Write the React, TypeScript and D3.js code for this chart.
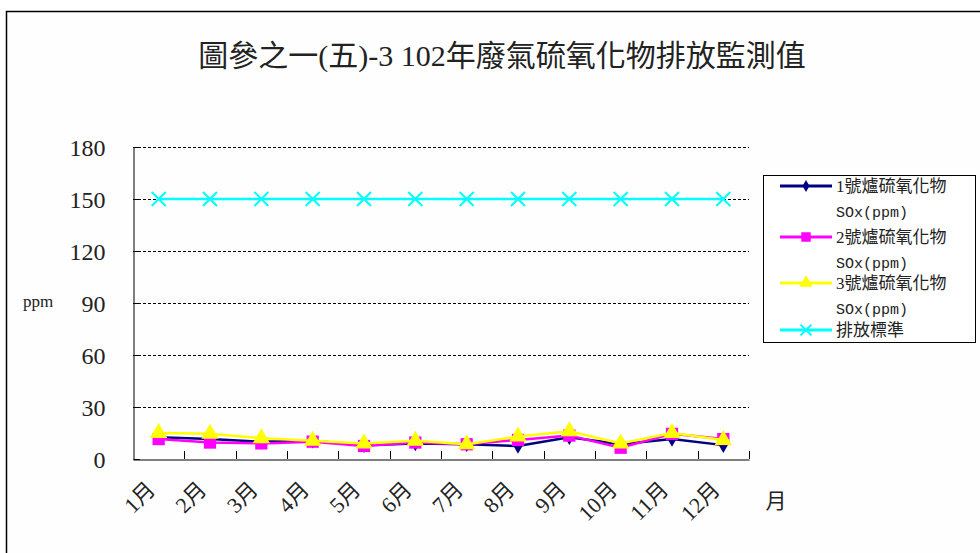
import React, { useRef, useEffect } from 'react'
import * as d3 from 'd3'

const months = ['1月', '2月', '3月', '4月', '5月', '6月', '7月', '8月', '9月', '10月', '11月', '12月']
const furnace1 = [12.5, 11.5, 10, 10.5, 8, 9, 8.5, 7.5, 12.5, 8.5, 11.5, 8]
const furnace2 = [11.5, 9.5, 9, 10, 7.5, 9.5, 8.5, 11, 13.5, 6.5, 14.5, 11.5]
const furnace3 = [15, 14.5, 12, 10.5, 9, 10.5, 8.5, 13, 16, 9, 15, 11]
const standard = [150, 150, 150, 150, 150, 150, 150, 150, 150, 150, 150, 150]
const yTicks = [0, 30, 60, 90, 120, 150, 180]

const seriesList = [
  { name: '1號爐硫氧化物', sub: 'SOx(ppm)', values: furnace1, color: '#000080', marker: 'diamond' },
  { name: '2號爐硫氧化物', sub: 'SOx(ppm)', values: furnace2, color: '#ff00ff', marker: 'square' },
  { name: '3號爐硫氧化物', sub: 'SOx(ppm)', values: furnace3, color: '#ffff00', marker: 'triangle' },
  { name: '排放標準', sub: '', values: standard, color: '#00ffff', marker: 'cross' },
]

const serif = '"Liberation Serif", "Noto Sans CJK TC", serif'

export default function App() {
  const svgRef = useRef<SVGSVGElement>(null)

  useEffect(() => {
    const svg = d3.select(svgRef.current)
    svg.selectAll('*').remove()

    const left = 133, right = 749, top = 147, bottom = 459

    // outer frame
    svg.append('rect')
      .attr('x', 6.5).attr('y', 11.5).attr('width', 990).attr('height', 560)
      .attr('fill', '#fefefe').attr('stroke', '#000').attr('stroke-width', 1.5)

    svg.append('text')
      .attr('x', 502).attr('y', 66)
      .attr('text-anchor', 'middle')
      .attr('font-family', serif).attr('font-size', 30).attr('fill', '#222')
      .text('圖參之一(五)-3 102年廢氣硫氧化物排放監測值')

    const x = d3.scaleBand().domain(months).range([left, right])
    const y = d3.scaleLinear().domain([0, 180]).range([bottom, top])

    // gridlines
    svg.append('g').selectAll('line')
      .data(yTicks.filter(t => t > 0))
      .join('line')
      .attr('x1', left).attr('x2', right)
      .attr('y1', d => Math.round(y(d)) + 0.5).attr('y2', d => Math.round(y(d)) + 0.5)
      .attr('stroke', '#000').attr('stroke-dasharray', '3,2').attr('stroke-width', 1)

    // y axis
    const yAxis = svg.append('g')
      .attr('transform', `translate(${left + 0.5},0)`)
      .call(d3.axisRight(y).tickValues(yTicks).tickSize(6).tickFormat(d => String(d)))
    yAxis.select('.domain').attr('stroke', '#000')
    yAxis.selectAll('.tick text')
      .attr('x', -28).attr('dy', '0.35em').attr('text-anchor', 'end')
      .attr('font-family', serif).attr('font-size', 24).attr('fill', '#222')

    // x axis
    const xAxis = svg.append('g')
      .attr('transform', `translate(0,${bottom + 0.5})`)
      .call(d3.axisTop(x).tickSize(0))
    xAxis.select('.domain').attr('stroke', '#000')
    xAxis.selectAll('.tick text').remove()
    svg.append('g').selectAll('line')
      .data(months)
      .join('line')
      .attr('x1', (d, i) => Math.round(left + x.step() * (i + 1)) + 0.5)
      .attr('x2', (d, i) => Math.round(left + x.step() * (i + 1)) + 0.5)
      .attr('y1', bottom).attr('y2', bottom - 8)
      .attr('stroke', '#000')

    svg.append('g').selectAll('text')
      .data(months)
      .join('text')
      .attr('transform', d => `translate(${(x(d) || 0) + x.bandwidth() / 2 - 13},${bottom + 21}) rotate(-45)`)
      .attr('text-anchor', 'end')
      .attr('dy', '0.7em')
      .attr('font-family', serif).attr('font-size', 22).attr('fill', '#222')
      .text(d => d)

    svg.append('text')
      .attr('x', 776).attr('y', 508).attr('text-anchor', 'middle')
      .attr('font-family', serif).attr('font-size', 21).attr('fill', '#222')
      .text('月')

    svg.append('text')
      .attr('x', 38).attr('y', 307).attr('text-anchor', 'middle')
      .attr('font-family', serif).attr('font-size', 17).attr('fill', '#222')
      .text('ppm')

    const symbolFor = (m: string, scale: number) => {
      if (m === 'diamond') return d3.symbol(d3.symbolDiamond, 70 * scale)()
      if (m === 'square') return d3.symbol(d3.symbolSquare, 150 * scale)()
      if (m === 'triangle') return d3.symbol(d3.symbolTriangle, 130 * scale)()
      return d3.symbol(d3.symbolX, 130 * scale)()
    }

    const line = d3.line<number>()
      .x((d, i) => (x(months[i]) || 0) + x.bandwidth() / 2)
      .y(d => y(d))

    seriesList.forEach(s => {
      svg.append('path')
        .datum(s.values)
        .attr('d', line)
        .attr('fill', 'none').attr('stroke', s.color).attr('stroke-width', 2.5)
      const cross = s.marker === 'cross'
      svg.append('g').selectAll('path')
        .data(s.values)
        .join('path')
        .attr('transform', (d, i) => `translate(${(x(months[i]) || 0) + x.bandwidth() / 2},${y(d)})`)
        .attr('d', symbolFor(s.marker, 1))
        .attr('fill', cross ? 'none' : s.color)
        .attr('stroke', s.color).attr('stroke-width', cross ? 2 : 0)
    })

    // legend
    svg.append('rect')
      .attr('x', 763.5).attr('y', 175.5).attr('width', 212).attr('height', 167)
      .attr('fill', '#fff').attr('stroke', '#000').attr('stroke-width', 1)

    const rows = [186, 237, 283, 330]
    seriesList.forEach((s, i) => {
      const ry = rows[i]
      svg.append('line')
        .attr('x1', 780).attr('x2', 832).attr('y1', ry).attr('y2', ry)
        .attr('stroke', s.color).attr('stroke-width', 3)
      svg.append('path')
        .attr('transform', `translate(806,${ry})`)
        .attr('d', symbolFor(s.marker, 0.6))
        .attr('fill', s.marker === 'cross' ? 'none' : s.color)
        .attr('stroke', s.color).attr('stroke-width', s.marker === 'cross' ? 2 : 0)
      svg.append('text')
        .attr('x', 836).attr('y', ry + 6)
        .attr('font-family', serif).attr('font-size', 17).attr('fill', '#222')
        .text(s.name)
      if (s.sub) {
        svg.append('text')
          .attr('x', 836).attr('y', ry + 31)
          .attr('font-family', '"Liberation Mono", monospace').attr('font-size', 15).attr('fill', '#222')
          .text(s.sub)
      }
    })
  }, [])

  return (
    <svg ref={svgRef} width={980} height={553}
      style={{ position: 'absolute', left: 0, top: 0, background: '#fff' }} />
  )
}
